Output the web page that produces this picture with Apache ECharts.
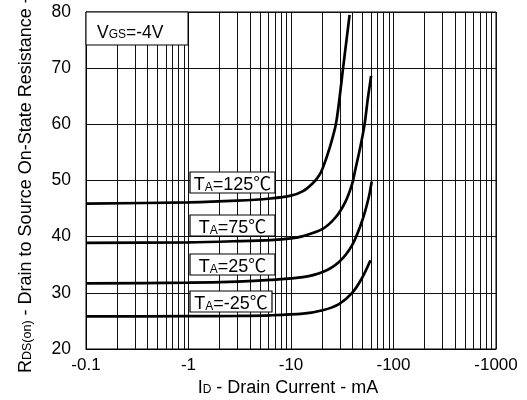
<!DOCTYPE html>
<html>
<head>
<meta charset="utf-8">
<script src="https://cdn.jsdelivr.net/npm/echarts@6/dist/echarts.min.js"></script>
<style>
html,body{margin:0;padding:0;background:#fff;}
#c{width:527px;height:400px;}
</style>
</head>
<body>
<div id="c"></div>
<script>
// Drain current (mA, magnitude) vs on-state resistance (ohm)
const seriesNames = ['TA=125℃', 'TA=75℃', 'TA=25℃', 'TA=-25℃'];
const t125 = [[0.1,45.9],[1,46.1],[3,46.4],[6.3,46.8],[10,47.3],[13.1,48.1],[16.3,49.5],[18.8,50.9],[20.4,52.2],[24,56],[27.4,60],[29.9,65],[32.2,70],[34.8,75],[37.3,79.5]];
const t75  = [[0.1,38.9],[1,39.0],[3,39.2],[6.3,39.4],[10,39.7],[13.1,40.1],[20.4,41.4],[27.4,43.5],[34.1,46.3],[39.5,49.4],[42.5,52.0],[47.5,56],[52.2,60],[56.1,64.5],[60.5,68.6]];
const t25  = [[0.1,31.7],[1,31.8],[3,32.0],[6.3,32.3],[13.1,32.8],[20.4,33.7],[29.4,35.5],[39.5,38.5],[49.2,42.7],[57,46.8],[61.3,49.8]];
const tm25 = [[0.1,25.8],[1,25.85],[3,25.9],[6.3,26.0],[13.1,26.3],[20.4,26.9],[29.4,28.0],[39.5,30.0],[49.2,32.6],[59.6,35.8]];
const xMajorTicks = [0.1, 1, 10, 100, 1000];
const xMinorGrid = [0.2,0.3,0.4,0.5,0.6,0.7,0.8,0.9,2,3,4,5,6,7,8,9,20,30,40,50,60,70,80,90,200,300,400,500,600,700,800,900];
const yTicks = [20, 30, 40, 50, 60, 70, 80];
const labelTemps = ['125', '75', '25', '-25'];

const FONT = '"Liberation Sans", Arial, "Noto Sans CJK SC", sans-serif';
const chart = echarts.init(document.getElementById('c'), null, {renderer: 'canvas'});

function curve(data, name) {
  return {
    type: 'line', name: name, data: data, smooth: 0.3,
    showSymbol: false, symbol: 'none', silent: true, z: 5,
    lineStyle: {color: '#000', width: 2.7}
  };
}
function rich(big, small, padB) {
  return {
    b: {fontSize: big, fontFamily: FONT, fill: '#000', verticalAlign: 'bottom', lineHeight: big + 4},
    s: {fontSize: small, fontFamily: FONT, fill: '#000', verticalAlign: 'bottom', lineHeight: big + 4, padding: [0, 0, padB, 0]}
  };
}

const labelBoxes = [[190, 172, 85], [190, 215, 85], [190, 254, 85], [190, 291, 82]];

const option = {
  backgroundColor: '#fff',
  animation: false,
  grid: {left: 86, right: 31, top: 12, bottom: 51, show: true, borderColor: '#000', borderWidth: 1},
  xAxis: {
    type: 'log', logBase: 10, min: xMajorTicks[0], max: xMajorTicks[xMajorTicks.length-1],
    axisLine: {show: true, lineStyle: {color: '#000', width: 1}},
    axisTick: {show: false},
    axisLabel: {color: '#000', fontSize: 17, fontFamily: FONT, margin: 8,
      formatter: v => '-' + v},
    splitLine: {show: true, lineStyle: {color: '#111', width: 1}},
    minorTick: {show: false}, minorSplitLine: {show: false}
  },
  yAxis: {
    type: 'value', min: yTicks[0], max: yTicks[yTicks.length-1], interval: 10,
    axisLine: {show: true, lineStyle: {color: '#000', width: 1}},
    axisTick: {show: false},
    axisLabel: {color: '#000', fontSize: 17.5, fontFamily: FONT, margin: 15},
    splitLine: {show: true, lineStyle: {color: '#111', width: 1}}
  },
  series: [
    {
      type: 'line', data: [], silent: true,
      markLine: {
        silent: true, symbol: 'none', label: {show: false},
        lineStyle: {color: '#111', width: 1, type: 'solid'},
        emphasis: {disabled: true},
        data: xMinorGrid.map(v => ({xAxis: v}))
      }
    },
    curve(t125, seriesNames[0]),
    curve(t75, seriesNames[1]),
    curve(t25, seriesNames[2]),
    curve(tm25, seriesNames[3])
  ],
  graphic: [
    // VGS box
    {type: 'rect', shape: {x: 86, y: 12, width: 102, height: 33}, z: 100,
      style: {fill: '#fff', stroke: '#000', lineWidth: 1}},
    {type: 'text', x: 97, y: 31, z: 101,
      style: {text: '{b|V}{s|GS}{b|=-4V}', align: 'left', verticalAlign: 'middle', rich: rich(17.5, 12, 1)}},
    // temperature labels
    ...labelBoxes.map(b => ({type: 'rect', shape: {x: b[0], y: b[1], width: b[2], height: 21}, z: 100,
      style: {fill: '#fff', stroke: '#000', lineWidth: 1.2}})),
    ...labelBoxes.map((b, i) => ({
      type: 'text', x: b[0] + b[2] / 2, y: b[1] + 11.5, z: 101,
      style: {text: '{b|T}{s|A}{b|=' + labelTemps[i] + '℃}', align: 'center', verticalAlign: 'middle', rich: rich(18, 12, 1)}
    })),
    // axis titles
    {type: 'text', x: 288, y: 386, z: 101,
      style: {text: '{b|I}{s|D}{b| - Drain Current - mA}', align: 'center', verticalAlign: 'middle', rich: rich(18, 12, 1)}},
    {type: 'text', x: 24, y: 373, z: 101, rotation: Math.PI / 2,
      style: {text: '{b|R}{s|DS(on)}{b| - Drain to Source On-State Resistance - Ω}', align: 'left', verticalAlign: 'middle', rich: rich(18, 12.5, 1)}}
  ]
};
chart.setOption(option);
</script>
</body>
</html>
